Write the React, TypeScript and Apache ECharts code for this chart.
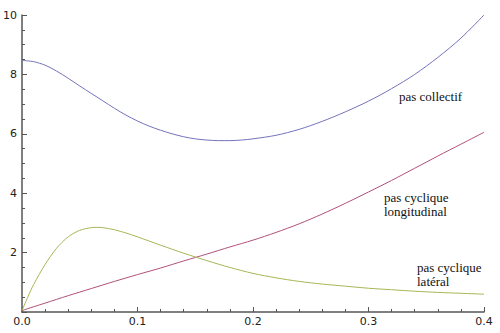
import React, { useEffect, useRef } from "react";
import * as echarts from "echarts";

const xMain = [0, 0.01, 0.02, 0.03, 0.04, 0.05, 0.06, 0.07, 0.08, 0.09, 0.1, 0.11, 0.12, 0.13, 0.14, 0.15, 0.16, 0.17, 0.18, 0.19, 0.2, 0.22, 0.24, 0.26, 0.28, 0.3, 0.32, 0.34, 0.36, 0.38, 0.4];
const pasCollectif = [8.47, 8.43, 8.31, 8.11, 7.87, 7.61, 7.36, 7.11, 6.86, 6.63, 6.43, 6.26, 6.12, 6.0, 5.9, 5.83, 5.79, 5.77, 5.77, 5.79, 5.83, 5.95, 6.15, 6.42, 6.74, 7.1, 7.52, 8.0, 8.57, 9.22, 10.0];

const xLong = [0, 0.02, 0.04, 0.06, 0.08, 0.1, 0.12, 0.14, 0.16, 0.18, 0.2, 0.22, 0.24, 0.26, 0.28, 0.3, 0.32, 0.34, 0.36, 0.38, 0.4];
const pasCycliqueLong = [0.05, 0.3, 0.55, 0.79, 1.03, 1.26, 1.48, 1.72, 1.95, 2.19, 2.42, 2.68, 2.97, 3.3, 3.66, 4.04, 4.43, 4.84, 5.25, 5.65, 6.05];

const xLat = [0, 0.005, 0.01, 0.02, 0.03, 0.04, 0.05, 0.06, 0.065, 0.07, 0.08, 0.09, 0.1, 0.12, 0.14, 0.16, 0.18, 0.2, 0.22, 0.24, 0.26, 0.28, 0.3, 0.32, 0.34, 0.36, 0.38, 0.4];
const pasCycliqueLat = [0.05, 0.5, 0.92, 1.6, 2.15, 2.53, 2.75, 2.84, 2.85, 2.84, 2.77, 2.66, 2.53, 2.25, 1.98, 1.73, 1.5, 1.3, 1.15, 1.03, 0.94, 0.87, 0.8, 0.75, 0.7, 0.66, 0.63, 0.6];

const labels = [
  { lines: ["pas collectif"], x: 399, y: 96.5 },
  { lines: ["pas cyclique", "longitudinal"], x: 384, y: 197.5 },
  { lines: ["pas cyclique", "latéral"], x: 417, y: 267.5 },
];

const zip = (xs: number[], ys: number[]) => xs.map((x, i) => [x, ys[i]]);

export default function App() {
  const ref = useRef<HTMLDivElement>(null);
  useEffect(() => {
    document.body.style.margin = "0";
    const chart = echarts.init(ref.current!, null, { renderer: "svg" });
    const axisColor = "#555";
    const graphics: any[] = [];
    labels.forEach((l) => {
      l.lines.forEach((t, i) => {
        graphics.push({
          type: "text",
          x: l.x,
          y: l.y + i * 14,
          style: {
            text: t,
            font: "13px 'Liberation Serif', 'Times New Roman', serif",
            fill: "#111",
            textAlign: "left",
            textVerticalAlign: "middle",
          },
        });
      });
    });
    const lineSeries = (data: number[][], color: string) => ({
      type: "line",
      data,
      smooth: 0.3,
      showSymbol: false,
      lineStyle: { color, width: 1 },
    });
    chart.setOption({
      animation: false,
      backgroundColor: "#fff",
      grid: { left: 21, right: 16, top: 15, bottom: 21 },
      xAxis: {
        type: "value",
        min: 0,
        max: 0.4,
        interval: 0.1,
        axisLine: { show: true, onZero: false, lineStyle: { color: axisColor, width: 1.5 } },
        axisTick: { show: true, inside: true, length: 5, lineStyle: { color: axisColor } },
        minorTick: { show: true, splitNumber: 5, length: 3, lineStyle: { color: axisColor } },
        splitLine: { show: false },
        axisLabel: {
          color: "#222",
          fontFamily: "DejaVu Sans",
          fontSize: 11,
          margin: 4,
          formatter: (v: number) => v.toFixed(1),
        },
      },
      yAxis: {
        type: "value",
        min: 0,
        max: 10,
        interval: 2,
        axisLine: { show: true, onZero: false, lineStyle: { color: axisColor, width: 1.5 } },
        axisTick: { show: true, inside: true, length: 5, lineStyle: { color: axisColor } },
        minorTick: { show: true, splitNumber: 4, length: 3, lineStyle: { color: axisColor } },
        splitLine: { show: false },
        axisLabel: {
          color: "#222",
          fontFamily: "DejaVu Sans",
          fontSize: 11,
          margin: 5,
          formatter: (v: number) => (v === 0 ? "" : String(v)),
        },
      },
      series: [
        lineSeries(zip(xMain, pasCollectif), "#7373bb"),
        lineSeries(zip(xLong, pasCycliqueLong), "#b0507a"),
        lineSeries(zip(xLat, pasCycliqueLat), "#a9b555"),
      ],
      graphic: graphics,
    });
    return () => chart.dispose();
  }, []);
  return <div ref={ref} style={{ width: 500, height: 333 }} />;
}
